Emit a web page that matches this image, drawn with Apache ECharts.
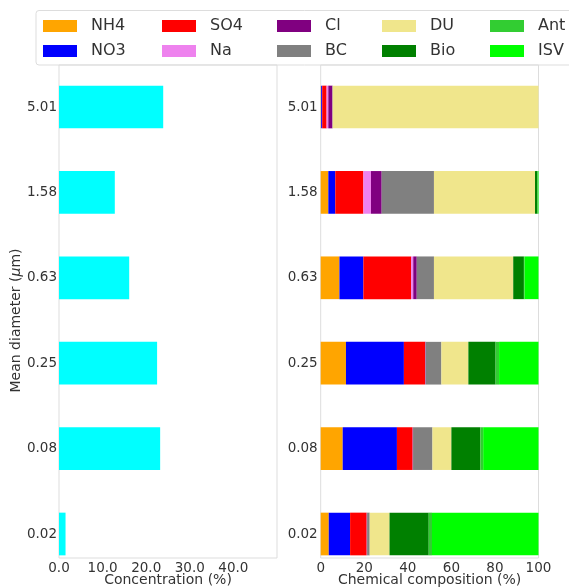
<!DOCTYPE html>
<html>
<head>
<meta charset="utf-8">
<script src="https://cdn.jsdelivr.net/npm/echarts@6/dist/echarts.min.js"></script>
<style>html,body{margin:0;padding:0;background:#fff}#c{width:569px;height:587px}</style>
</head>
<body>
<div id="c"></div>
<script>
// ---- data ----
const sizes = ['0.02', '0.08', '0.25', '0.63', '1.58', '5.01'];
const concentration = [1.5, 23.2, 22.5, 16.1, 12.8, 23.9];
const componentNames = ['NH4', 'NO3', 'SO4', 'Na', 'Cl', 'BC', 'DU', 'Bio', 'Ant', 'ISV'];
const NH4 = [3.7, 10.1, 11.6, 8.6, 3.5, 0.2];
const NO3 = [9.8, 24.9, 26.6, 11.0, 3.2, 0.5];
const SO4 = [7.6, 7.2, 9.7, 21.9, 12.9, 2.0];
const Na  = [0.1, 0.1, 0.1, 1.0, 3.5, 0.8];
const Cl  = [0.1, 0.1, 0.2, 1.6, 4.9, 1.9];
const BC  = [1.2, 8.9, 7.2, 7.9, 24.0, 0.1];
const DU  = [9.1, 8.7, 12.4, 36.4, 46.4, 94.5];
const Bio = [18.0, 13.3, 12.5, 4.9, 1.1, 0.0];
const Ant = [1.5, 1.3, 1.6, 0.3, 0.2, 0.0];
const ISV = [48.9, 25.4, 18.1, 6.4, 0.3, 0.0];
const concTicks = [0, 10, 20, 30, 40];
const compTicks = [0, 20, 40, 60, 80, 100];

// ---- styles ----
const componentValues = [NH4, NO3, SO4, Na, Cl, BC, DU, Bio, Ant, ISV];
const componentColors = ['#FFA500', '#0000FF', '#FF0000', '#EE82EE', '#800080', '#808080', '#F0E68C', '#008000', '#32CD32', '#00FF00'];
const FONT = 'DejaVu Sans';
const TXT = '#333';

const chart = echarts.init(document.getElementById('c'), null, {renderer: 'canvas'});

const frameLeft = {left: 59, width: 218, top: 65, height: 493};
const frameRight = {left: 320.7, width: 217.8, top: 65, height: 493};
const bandH = 85.4;
const barTop = 107 - bandH / 2;

const gridBase = {outerBoundsMode: 'none', containLabel: false};
const grids = [
  Object.assign({show: true, borderColor: '#dddddd', borderWidth: 1, backgroundColor: 'transparent'}, gridBase, frameLeft),
  Object.assign({show: true, borderColor: '#dddddd', borderWidth: 1, backgroundColor: 'transparent'}, gridBase, frameRight),
  Object.assign({show: false}, gridBase, {left: frameLeft.left, width: frameLeft.width, top: barTop, height: bandH * 6}),
  Object.assign({show: false}, gridBase, {left: frameRight.left, width: frameRight.width, top: barTop, height: bandH * 6})
];

const xAxes = [
  {gridIndex: 0, type: 'value', min: 0, max: 50, interval: 10,
   axisLine: {show: false}, axisTick: {show: false}, splitLine: {show: false},
   axisLabel: {margin: 3, fontSize: 13.5, fontFamily: FONT, color: TXT,
     formatter: v => concTicks.indexOf(v) >= 0 ? v.toFixed(1) : ''},
   name: 'Concentration (%)', nameLocation: 'middle', nameGap: 22, nameMoveOverlap: false,
   nameTextStyle: {fontSize: 14, fontFamily: FONT, color: TXT, verticalAlign: 'middle'}},
  {gridIndex: 1, type: 'value', min: 0, max: 100, interval: 20,
   axisLine: {show: false}, axisTick: {show: false}, splitLine: {show: false},
   axisLabel: {margin: 3, fontSize: 13.5, fontFamily: FONT, color: TXT,
     formatter: v => compTicks.indexOf(v) >= 0 ? String(v) : ''},
   name: 'Chemical composition (%)', nameLocation: 'middle', nameGap: 22, nameMoveOverlap: false,
   nameTextStyle: {fontSize: 14, fontFamily: FONT, color: TXT, verticalAlign: 'middle'}},
  {gridIndex: 2, type: 'value', min: 0, max: 50, show: false},
  {gridIndex: 3, type: 'value', min: 0, max: 100, show: false}
];

const yAxes = [
  {gridIndex: 0, type: 'value', min: 0, max: 1, axisLine: {show: false}, axisTick: {show: false},
   axisLabel: {show: false}, splitLine: {show: false}},
  {gridIndex: 1, type: 'value', min: 0, max: 1, axisLine: {show: false}, axisTick: {show: false},
   axisLabel: {show: false}, splitLine: {show: false}},
  {gridIndex: 2, type: 'category', data: sizes, axisLine: {show: false}, axisTick: {show: false},
   axisLabel: {margin: 2, fontSize: 13.5, fontFamily: FONT, color: TXT},
   name: 'Mean diameter ({i|μ}m)', nameLocation: 'middle', nameRotate: 90, nameGap: 36, nameMoveOverlap: false,
   nameTextStyle: {fontSize: 14, fontFamily: FONT, color: TXT,
     rich: {i: {fontStyle: 'italic', fontSize: 14, fontFamily: FONT, color: TXT}}}},
  {gridIndex: 3, type: 'category', data: sizes, axisLine: {show: false}, axisTick: {show: false},
   axisLabel: {margin: 3, fontSize: 13.5, fontFamily: FONT, color: TXT}}
];

const series = [{
  type: 'bar', name: 'Concentration', xAxisIndex: 2, yAxisIndex: 2,
  data: concentration, barWidth: '50%', itemStyle: {color: '#00FFFF'},
  silent: true, animation: false
}];
componentNames.forEach((n, i) => {
  series.push({
    type: 'bar', name: n, xAxisIndex: 3, yAxisIndex: 3, stack: 'total',
    data: componentValues[i], barWidth: '50%', itemStyle: {color: componentColors[i]},
    silent: true, animation: false
  });
});

// legend: column-major, 5 columns x 2 rows
const legendCols = [43, 162, 277, 382, 490];
const legends = legendCols.map((x, c) => ({
  orient: 'vertical', left: x, top: 17, itemGap: 7, padding: 0,
  itemWidth: 34, itemHeight: 12, icon: 'rect', selectedMode: false,
  data: [componentNames[c * 2], componentNames[c * 2 + 1]],
  textStyle: {fontSize: 16, fontFamily: FONT, color: TXT, lineHeight: 18, padding: [0, 0, 0, 9]}
}));

chart.setOption({
  animation: false,
  backgroundColor: '#fff',
  graphic: [{type: 'rect', z: -1, shape: {x: 36, y: 10.5, width: 560, height: 54.5, r: 3},
    style: {fill: '#fff', stroke: '#dddddd', lineWidth: 1}}],
  legend: legends,
  grid: grids,
  xAxis: xAxes,
  yAxis: yAxes,
  series: series
});
</script>
</body>
</html>
